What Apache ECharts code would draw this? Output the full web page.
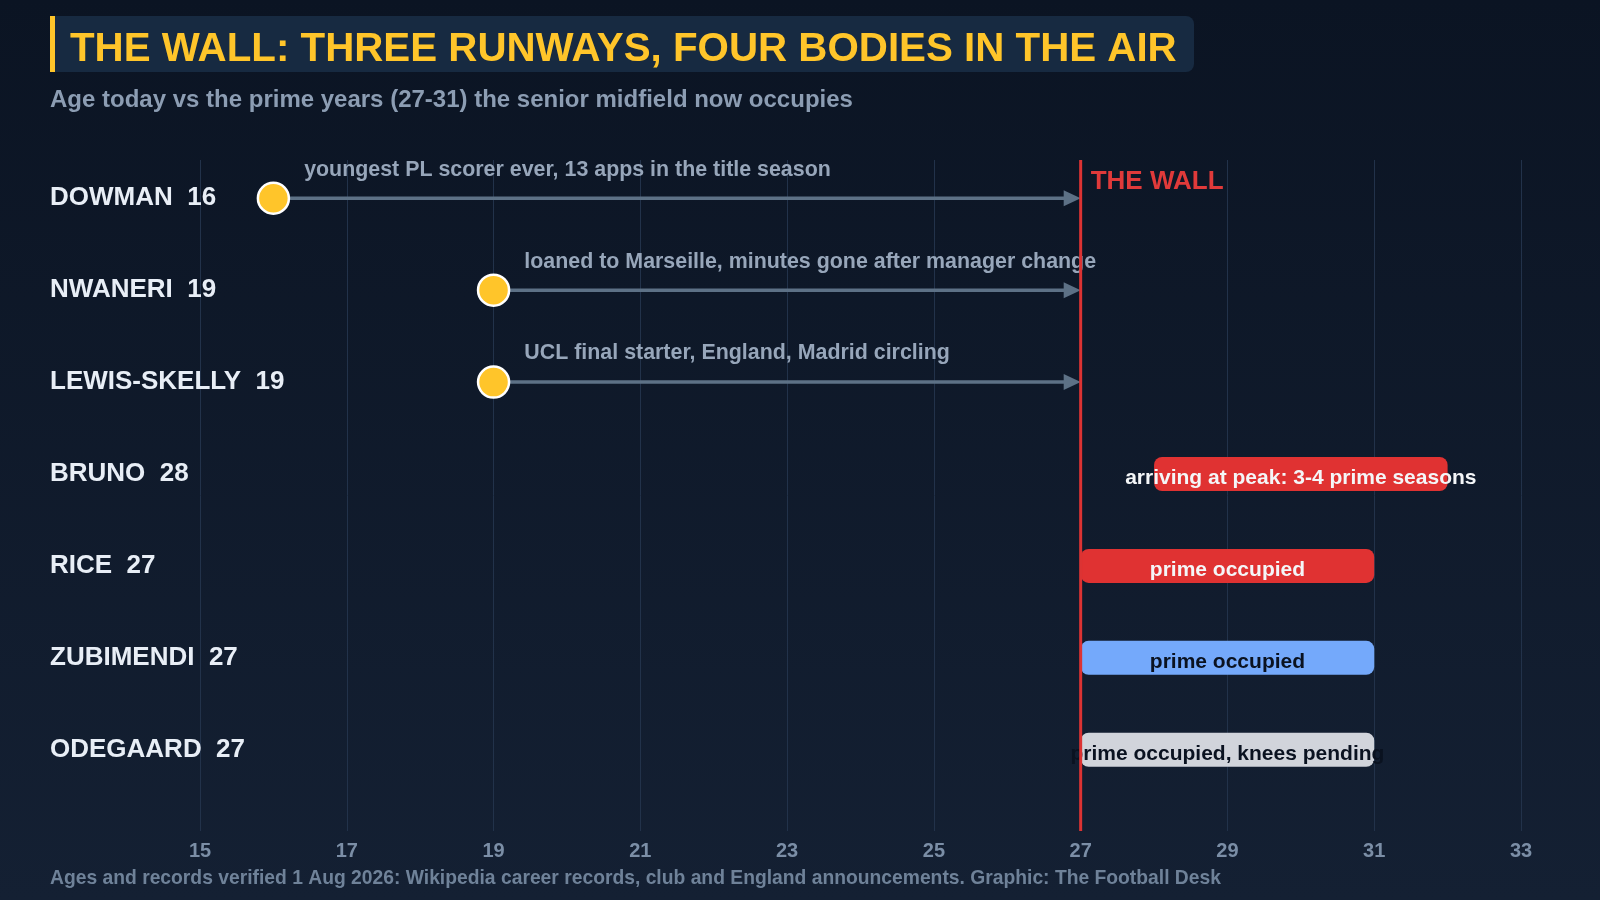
<!DOCTYPE html>
<html>
<head>
<meta charset="utf-8">
<script src="https://cdn.jsdelivr.net/npm/echarts@6/dist/echarts.min.js"></script>
<style>
html,body{margin:0;padding:0;background:#0b1524;}
#chart{width:1600px;height:900px;}
</style>
</head>
<body>
<div id="chart"></div>
<script>
// ---- data ----
const titleText = 'THE WALL: THREE RUNWAYS, FOUR BODIES IN THE AIR';
const subtitleText = 'Age today vs the prime years (27-31) the senior midfield now occupies';
const footerText = 'Ages and records verified 1 Aug 2026: Wikipedia career records, club and England announcements. Graphic: The Football Desk';

const players = ['DOWMAN', 'NWANERI', 'LEWIS-SKELLY', 'BRUNO', 'RICE', 'ZUBIMENDI', 'ODEGAARD'];
const ages = [16, 19, 19, 28, 27, 27, 27];

const prospectRows = [0, 1, 2];
const prospectNotes = [
  'youngest PL scorer ever, 13 apps in the title season',
  'loaned to Marseille, minutes gone after manager change',
  'UCL final starter, England, Madrid circling'
];

const seniorRows = [3, 4, 5, 6];
const seniorStart = [28, 27, 27, 27];
const seniorEnd = [32, 31, 31, 31];
const seniorNotes = [
  'arriving at peak: 3-4 prime seasons',
  'prime occupied',
  'prime occupied',
  'prime occupied, knees pending'
];

const wallAge = 27;
const wallLabel = 'THE WALL';
const xMin = 15, xMax = 33, xStep = 2;

// ---- styles ----
const barFill = ['#e03232', '#e03232', '#74a9fb', '#d1d4db'];
const barText = ['#f4f6f8', '#f4f6f8', '#0a1220', '#0a1220'];
const FONT = 'Liberation Sans, Arial, sans-serif';
const ARROW = '#5d7186';

const chart = echarts.init(document.getElementById('chart'), null, {renderer: 'canvas'});

const option = {
  backgroundColor: new echarts.graphic.LinearGradient(0, 0, 0, 1, [
    {offset: 0, color: '#0b1423'},
    {offset: 1, color: '#142033'}
  ]),
  animation: false,
  textStyle: {fontFamily: FONT},
  graphic: [
    {type: 'rect', shape: {x: 50, y: 16, width: 1144, height: 56, r: [0, 8, 8, 0]}, style: {fill: '#172a41'}, z: 0},
    {type: 'rect', shape: {x: 50, y: 16, width: 5, height: 56}, style: {fill: '#ffc52a'}, z: 1}
  ],
  title: [
    {text: titleText, left: 70, top: 29, padding: 0, z: 5,
      textStyle: {fontFamily: FONT, fontSize: 40.3, fontWeight: 'bold', color: '#ffc52a', lineHeight: 42}},
    {text: subtitleText, left: 50, top: 88, padding: 0,
      textStyle: {fontFamily: FONT, fontSize: 24, fontWeight: 'bold', color: '#8c9db3', lineHeight: 24}},
    {text: footerText, left: 50, top: 869, padding: 0,
      textStyle: {fontFamily: FONT, fontSize: 19.3, fontWeight: 'bold', color: '#6f8299', lineHeight: 20}}
  ],
  grid: {left: 200, right: 79, top: 160, bottom: 69, containLabel: false},
  xAxis: {
    type: 'value', min: xMin, max: xMax, interval: xStep,
    axisLine: {show: false}, axisTick: {show: false},
    splitLine: {show: true, lineStyle: {color: '#22324a', width: 1}},
    axisLabel: {margin: 10, fontFamily: FONT, fontSize: 20, fontWeight: 'bold', color: '#7b8ea6'}
  },
  yAxis: {
    type: 'value', inverse: true, min: -0.416, max: 6.884,
    axisLine: {show: false}, axisTick: {show: false}, splitLine: {show: false},
    axisLabel: {
      customValues: players.map((p, i) => i),
      formatter: v => players[v] + '  ' + ages[v],
      align: 'left', margin: 150, padding: [3, 0, 0, 0],
      fontFamily: FONT, fontSize: 26, fontWeight: 'bold', color: '#e8eef6'
    }
  },
  series: [
    {
      type: 'custom', z: 2, silent: true,
      renderItem: function (params, api) {
        const a = api.coord([api.value(0), api.value(2)]);
        const b = api.coord([api.value(1), api.value(2)]);
        const L = 17, W = 8;
        return {
          type: 'group',
          children: [
            {type: 'line', shape: {x1: a[0], y1: a[1], x2: b[0] - L + 1, y2: b[1]},
              style: {stroke: ARROW, lineWidth: 3.5}},
            {type: 'polygon', shape: {points: [[b[0], b[1]], [b[0] - L, b[1] - W], [b[0] - L, b[1] + W]]},
              style: {fill: ARROW}}
          ]
        };
      },
      data: prospectRows.map(r => [ages[r], wallAge, r])
    },
    {
      type: 'scatter', z: 4, silent: true,
      symbol: 'circle', symbolSize: 31,
      itemStyle: {color: '#ffc52a', borderColor: '#ffffff', borderWidth: 2.5, opacity: 1},
      label: {
        show: true, position: 'right', distance: 14, offset: [0, -28.5],
        formatter: p => prospectNotes[p.dataIndex],
        fontFamily: FONT, fontSize: 21.4, fontWeight: 'bold', color: '#97a6ba'
      },
      data: prospectRows.map(r => [ages[r], r])
    },
    {
      type: 'custom', z: 3, silent: true,
      renderItem: function (params, api) {
        const i = params.dataIndex;
        const s = api.coord([api.value(0), api.value(2)]);
        const e = api.coord([api.value(1), api.value(2)]);
        const h = 34;
        return {
          type: 'group',
          children: [
            {type: 'rect', shape: {x: s[0], y: s[1] - h / 2, width: e[0] - s[0], height: h, r: 8},
              style: {fill: barFill[i]}},
            {type: 'text', x: (s[0] + e[0]) / 2, y: s[1] + 4,
              style: {text: seniorNotes[i], align: 'center', verticalAlign: 'middle',
                font: 'bold 21px ' + FONT, fill: barText[i]}}
          ]
        };
      },
      data: seniorRows.map((r, i) => [seniorStart[i], seniorEnd[i], r])
    },
    {
      type: 'custom', z: 6, silent: true,
      renderItem: function (params, api) {
        const cs = params.coordSys;
        const x = api.coord([api.value(0), 0])[0];
        return {
          type: 'group',
          children: [
            {type: 'line', shape: {x1: x, y1: cs.y, x2: x, y2: cs.y + cs.height},
              style: {stroke: '#dc3333', lineWidth: 3}},
            {type: 'text', x: x + 10, y: cs.y + 22,
              style: {text: wallLabel, align: 'left', verticalAlign: 'middle',
                font: 'bold 26px ' + FONT, fill: '#e03a3a'}}
          ]
        };
      },
      data: [[wallAge]]
    }
  ]
};
chart.setOption(option);
</script>
</body>
</html>
